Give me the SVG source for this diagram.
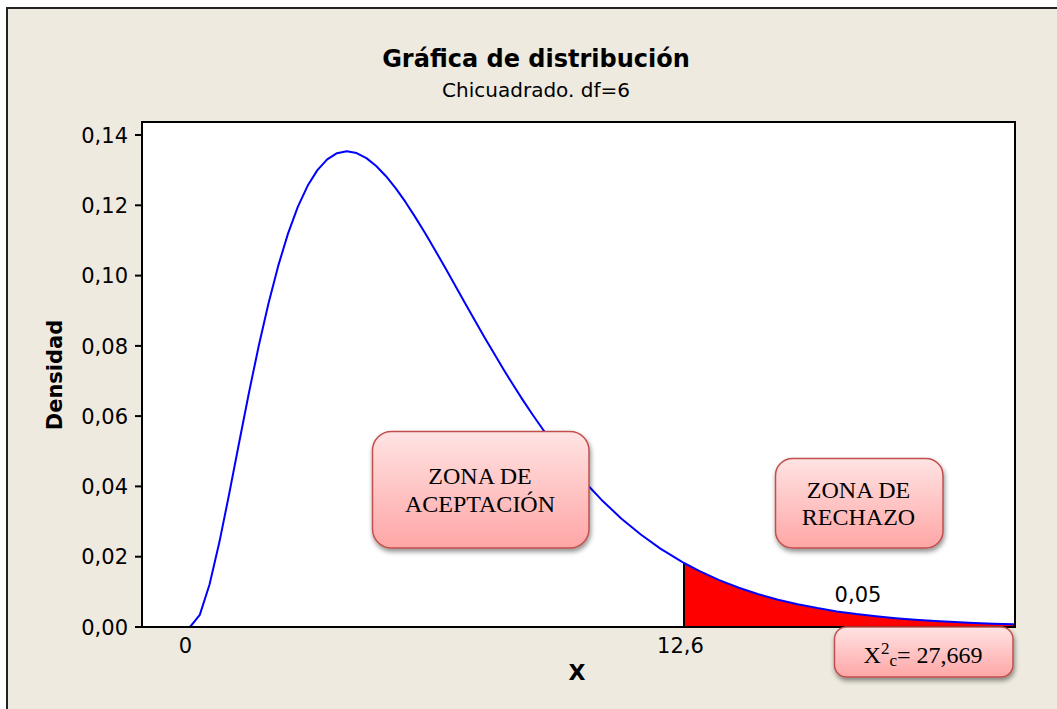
<svg xmlns="http://www.w3.org/2000/svg" width="1057" height="709" viewBox="0 0 1057 709">
<defs>
<linearGradient id="pink" x1="0" y1="0" x2="0" y2="1">
<stop offset="0" stop-color="#FFE3E3"/>
<stop offset="1" stop-color="#FFA6A6"/>
</linearGradient>
<filter id="sh" x="-20%" y="-20%" width="140%" height="150%">
<feGaussianBlur in="SourceAlpha" stdDeviation="2.5"/>
<feOffset dx="1" dy="3" result="b"/>
<feComponentTransfer><feFuncA type="linear" slope="0.45"/></feComponentTransfer>
<feMerge><feMergeNode/><feMergeNode in="SourceGraphic"/></feMerge>
</filter>
</defs>
<style>
.ax{font-family:"DejaVu Sans",Tahoma,sans-serif;font-size:21px;fill:#000}
.ylab{text-anchor:end}
.mid{text-anchor:middle}
.box{fill:url(#pink);stroke:#C0504D;stroke-width:1.5;filter:url(#sh)}
.bt{font-family:"Liberation Serif","Times New Roman",serif;font-size:24px;fill:#000;text-anchor:middle}
.tick{stroke:#000;stroke-width:2}
</style>
<rect x="0" y="0" width="1057" height="709" fill="#FFFFFF"/>
<rect x="7" y="8" width="1070" height="720" fill="#EEEAE0" stroke="#222" stroke-width="2"/>

<g id="title">
<text x="536" y="67" class="mid" font-family="'DejaVu Sans',Tahoma,sans-serif" font-weight="bold" font-size="24">Gráfica de distribución</text>
<text x="536" y="97" class="mid" font-family="'DejaVu Sans',Tahoma,sans-serif" font-size="20">Chicuadrado. df=6</text>
</g>

<g id="plot">
<rect x="142" y="122" width="873" height="505" fill="#FFFFFF"/>
<polygon fill="#FF0000" points="683.9,627 683.9,563 699.6,571.2 719.2,580.1 738.8,587.7 758.4,594.2 778,599.7 797.6,604.3 817.2,608.1 836.8,611.4 856.4,614.1 876,616.3 895.6,618.2 915.2,619.8 934.8,621.1 954.4,622.1 974,623 993.6,623.7 1013.2,624.3 1015,624.4 1015,627"/>
<line x1="684" y1="563" x2="684" y2="627" stroke="#000" stroke-width="2"/>
<path fill="none" stroke="#0000FF" stroke-width="2" stroke-linejoin="round" d="M186,627 L190,627 L199.8,614.9 L209.6,584.2 L219.4,542.1 L229.2,493.8 L239,443.3 L248.8,393.5 L258.6,346.5 L268.4,303.7 L278.2,265.9 L288,233.6 L297.8,206.9 L307.6,185.8 L317.4,170.1 L327.2,159.4 L337,153.2 L346.8,151.3 L356.6,153.1 L366.4,158.1 L376.2,166 L386,176.2 L395.8,188.4 L405.6,202.2 L415.4,217.4 L425.2,233.2 L435,250 L444.8,267.1 L454.6,284.5 L464.4,301.9 L474.2,319.2 L484,336.4 L493.8,353.1 L503.6,369.5 L513.4,385.3 L523.2,400.6 L533,415.2 L542.8,429.3 L552.6,442.7 L562.4,455.5 L572.2,467.6 L582,479 L601.6,499.9 L621.2,518.4 L640.8,534.5 L660.4,548.6 L680,560.7 L683.9,563 L699.6,571.2 L719.2,580.1 L738.8,587.7 L758.4,594.2 L778,599.7 L797.6,604.3 L817.2,608.1 L836.8,611.4 L856.4,614.1 L876,616.3 L895.6,618.2 L915.2,619.8 L934.8,621.1 L954.4,622.1 L974,623 L993.6,623.7 L1013.2,624.3 L1015,624.4"/>
<rect x="142" y="122" width="873" height="505" fill="none" stroke="#000" stroke-width="2"/>
</g>

<g id="y-axis">
<line class="tick" x1="135" y1="135" x2="142" y2="135"/>
<line class="tick" x1="135" y1="205.3" x2="142" y2="205.3"/>
<line class="tick" x1="135" y1="275.6" x2="142" y2="275.6"/>
<line class="tick" x1="135" y1="345.9" x2="142" y2="345.9"/>
<line class="tick" x1="135" y1="416.1" x2="142" y2="416.1"/>
<line class="tick" x1="135" y1="486.4" x2="142" y2="486.4"/>
<line class="tick" x1="135" y1="556.7" x2="142" y2="556.7"/>
<line class="tick" x1="135" y1="627" x2="142" y2="627"/>
<text class="ax ylab" x="128" y="142.6">0,14</text>
<text class="ax ylab" x="128" y="212.9">0,12</text>
<text class="ax ylab" x="128" y="283.2">0,10</text>
<text class="ax ylab" x="128" y="353.5">0,08</text>
<text class="ax ylab" x="128" y="423.7">0,06</text>
<text class="ax ylab" x="128" y="494">0,04</text>
<text class="ax ylab" x="128" y="564.3">0,02</text>
<text class="ax ylab" x="128" y="634.6">0,00</text>
<text transform="translate(62,375) rotate(-90)" class="mid" font-family="'DejaVu Sans',Tahoma,sans-serif" font-weight="bold" font-size="21">Densidad</text>
</g>

<g id="x-axis">
<text class="ax mid" x="185.5" y="652.5">0</text>
<text class="ax mid" x="680.5" y="652.5">12,6</text>
<text x="577" y="680" class="mid" font-family="'DejaVu Sans',Tahoma,sans-serif" font-weight="bold" font-size="22">X</text>
<text class="ax mid" x="858" y="602.3">0,05</text>
</g>

<g id="zona-aceptacion">
<rect class="box" x="372.5" y="431.5" width="216.5" height="116.5" rx="19"/>
<text class="bt" x="480" y="484.3">ZONA DE</text>
<text class="bt" x="480" y="511.7">ACEPTACIÓN</text>
</g>

<g id="zona-rechazo">
<rect class="box" x="775.5" y="458.5" width="167.5" height="89.5" rx="17"/>
<text class="bt" x="858.5" y="498.3">ZONA DE</text>
<text class="bt" x="858.5" y="525">RECHAZO</text>
</g>

<g id="chi-calc">
<rect class="box" x="834.5" y="627" width="178.5" height="50" rx="12"/>
<text class="bt" x="923" y="662.7" font-size="25">X<tspan font-size="17" dy="-9">2</tspan><tspan font-size="17" dy="12">c</tspan><tspan dy="-3">= 27,669</tspan></text>
</g>

<g id="connectors"/>
</svg>
